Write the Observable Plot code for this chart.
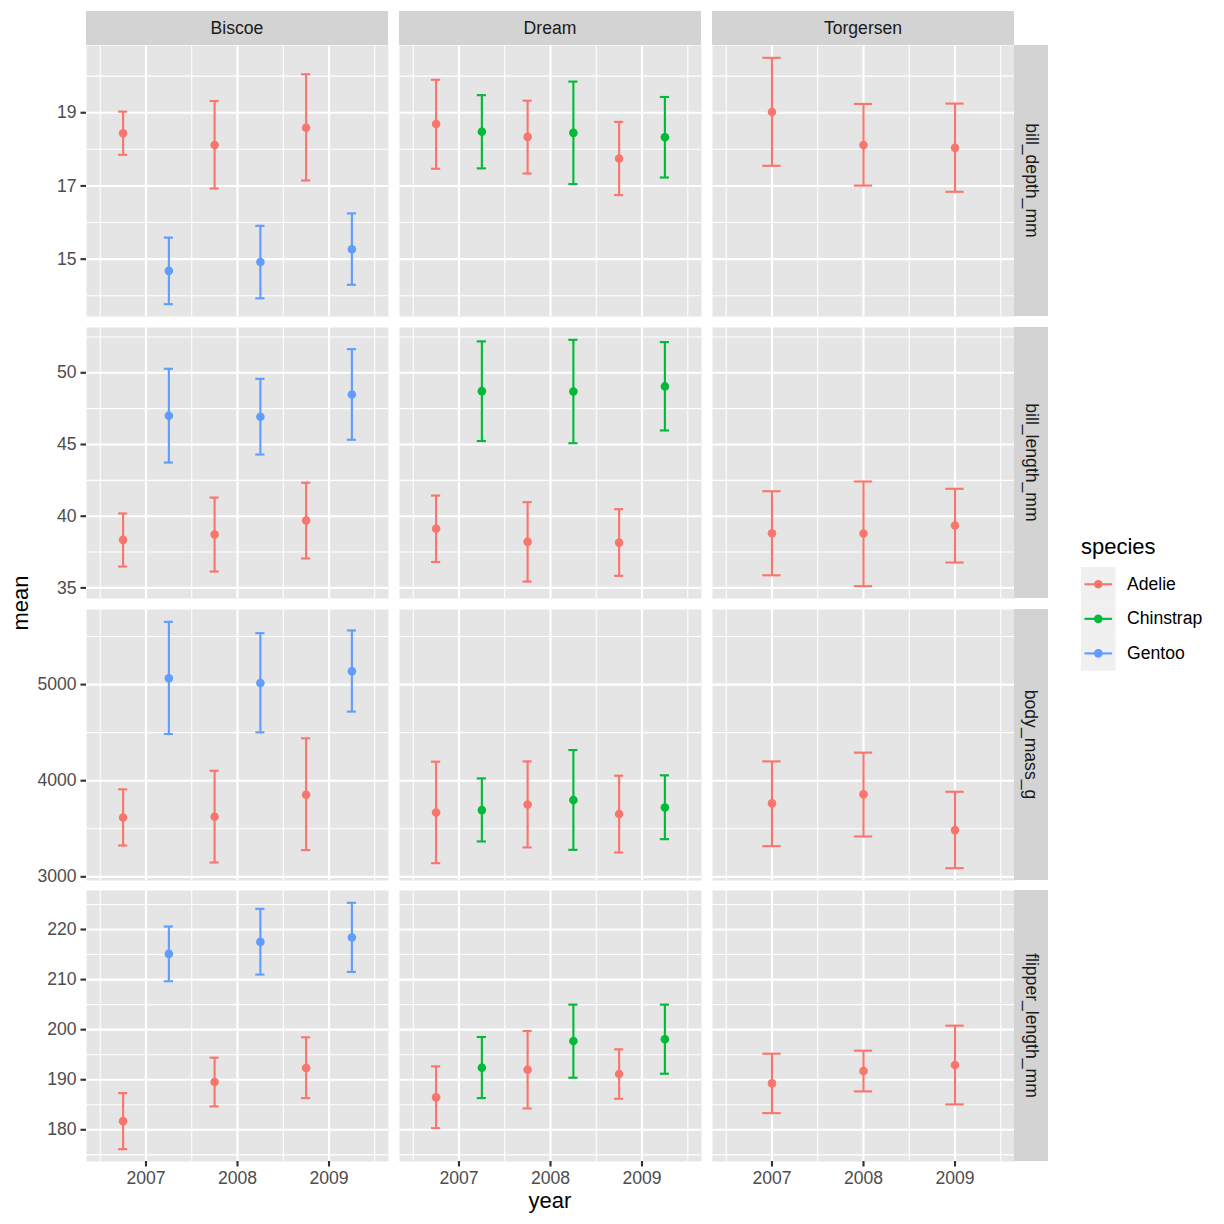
<!DOCTYPE html>
<html>
<head>
<meta charset="utf-8">
<script src="https://cdn.jsdelivr.net/npm/d3@7"></script>
<script src="https://cdn.jsdelivr.net/npm/@observablehq/plot@0.6"></script>
<style>
  body { margin: 0; background: #ffffff; }
  #chart { position: relative; width: 1224px; height: 1224px; font-family: "Liberation Sans", Arial, Helvetica, sans-serif; }
  .strip { position: absolute; background: #D3D3D3; color: #1A1A1A; font-size: 17.6px; display: flex; align-items: center; justify-content: center; }
  .vtext { transform: rotate(90deg); white-space: nowrap; }
  .title { position: absolute; color: #000000; font-size: 22px; white-space: nowrap; }
  .legtext { position: absolute; color: #000000; font-size: 17.6px; white-space: nowrap; }
</style>
</head>
<body>
<div id="chart"></div>
<script>
// ---------------- data ----------------
const islands = ["Biscoe", "Dream", "Torgersen"];
const species = ["Adelie", "Chinstrap", "Gentoo"];
const speciesColors = ["#F8766D", "#00BA38", "#619CFF"];
const years = [2007, 2008, 2009];
const variables = ["bill_depth_mm", "bill_length_mm", "body_mass_g", "flipper_length_mm"];

// island/species groups present in the data (one row per group, values by year)
const groupIsland  = ["Biscoe", "Biscoe", "Dream", "Dream", "Torgersen"];
const groupSpecies = ["Adelie", "Gentoo", "Adelie", "Chinstrap", "Adelie"];

const billDepthMean = [[18.44, 18.12, 18.59], [14.68, 14.92, 15.27], [18.69, 18.34, 17.75], [18.48, 18.45, 18.33], [19.02, 18.12, 18.04]];
const billDepthLow  = [[17.85, 16.93, 17.15], [13.77, 13.93, 14.30], [17.47, 17.34, 16.75], [17.48, 17.05, 17.23], [17.55, 17.01, 16.84]];
const billDepthHigh = [[19.03, 19.32, 20.05], [15.59, 15.91, 16.25], [19.90, 19.33, 18.75], [19.48, 19.85, 19.43], [20.50, 19.24, 19.25]];

const billLengthMean = [[38.35, 38.72, 39.70], [47.00, 46.93, 48.49], [39.12, 38.21, 38.16], [48.72, 48.70, 49.05], [38.81, 38.79, 39.35]];
const billLengthLow  = [[36.49, 36.14, 37.05], [43.74, 44.30, 45.33], [36.81, 35.44, 35.84], [45.24, 45.09, 45.98], [35.88, 35.12, 36.77]];
const billLengthHigh = [[40.19, 41.30, 42.33], [50.28, 49.58, 51.65], [41.44, 40.98, 40.49], [52.19, 52.30, 52.14], [41.74, 42.42, 41.91]];

const bodyMassMean = [[3618, 3625, 3854], [5066, 5017, 5139], [3670, 3753, 3653], [3694, 3799, 3722], [3764, 3858, 3486]];
const bodyMassLow  = [[3326, 3149, 3278], [4486, 4503, 4719], [3142, 3306, 3253], [3368, 3281, 3392], [3319, 3420, 3090]];
const bodyMassHigh = [[3910, 4104, 4441], [5653, 5535, 5563], [4198, 4201, 4052], [4024, 4319, 4056], [4201, 4292, 3885]];

const flipperMean = [[181.73, 189.53, 192.33], [215.13, 217.53, 218.40], [186.47, 192.00, 191.13], [192.40, 197.73, 198.07], [189.27, 191.73, 192.93]];
const flipperLow  = [[176.13, 184.67, 186.33], [209.67, 211.00, 211.53], [180.33, 184.27, 186.20], [186.33, 190.40, 191.20], [183.33, 187.67, 185.07]];
const flipperHigh = [[187.33, 194.40, 198.47], [220.60, 224.13, 225.33], [192.67, 199.73, 196.07], [198.53, 205.00, 205.00], [195.20, 195.80, 200.80]];

// tick labels
const depthTicks = [15, 17, 19];
const depthMinor = [14, 16, 18, 20];
const lengthTicks = [35, 40, 45, 50];
const lengthMinor = [37.5, 42.5, 47.5, 52.5];
const massTicks = [3000, 4000, 5000];
const massMinor = [3500, 4500, 5500];
const flipperTicks = [180, 190, 200, 210, 220];
const flipperMinor = [175, 185, 195, 205, 215, 225];
const yearTicks = [2007, 2008, 2009];
const yearMinor = [2006.5, 2007.5, 2008.5, 2009.5];

// ---------------- assembly ----------------
const series = {
  bill_depth_mm:     {mean: billDepthMean,  low: billDepthLow,  high: billDepthHigh,  ticks: depthTicks,   minor: depthMinor},
  bill_length_mm:    {mean: billLengthMean, low: billLengthLow, high: billLengthHigh, ticks: lengthTicks,  minor: lengthMinor},
  body_mass_g:       {mean: bodyMassMean,   low: bodyMassLow,   high: bodyMassHigh,   ticks: massTicks,    minor: massMinor},
  flipper_length_mm: {mean: flipperMean,    low: flipperLow,    high: flipperHigh,    ticks: flipperTicks, minor: flipperMinor}
};

const FONT = '"Liberation Sans", Arial, Helvetica, sans-serif';
const chart = document.getElementById("chart");

// layout
const panelLeft = 86, panelRight = 1014, panelW = 302, panelGap = 11;
const rowTops = [45, 327, 609, 890];
const rowH = 271;
const stripTop = 11, stripH = 34, stripW = 34;

// dodge within island (dodge width 1, errorbar width 0.2)
function buildRows(v) {
  const s = series[v];
  const rows = [];
  groupIsland.forEach((isl, g) => {
    const present = species.filter(sp => groupIsland.some((gi, k) => gi === isl && groupSpecies[k] === sp));
    const n = present.length;
    const i = present.indexOf(groupSpecies[g]);
    const off = (i - (n - 1) / 2) / n;
    const cap = 0.2 / n;
    years.forEach((yr, j) => {
      rows.push({
        island: isl, species: groupSpecies[g], year: yr,
        xd: yr + off, capL: yr + off - cap / 2, capR: yr + off + cap / 2,
        mean: s.mean[g][j], lo: s.low[g][j], hi: s.high[g][j]
      });
    });
  });
  return rows;
}

const xSpan = (d3.max(years) + 0.5) - (d3.min(years) - 0.5);
const xDomain = [d3.min(years) - 0.5 - 0.05 * xSpan, d3.max(years) + 0.5 + 0.05 * xSpan];

variables.forEach((v, r) => {
  const s = series[v];
  const rows = buildRows(v);
  const lo = d3.min(rows, d => d.lo), hi = d3.max(rows, d => d.hi);
  const yDomain = [lo - 0.05 * (hi - lo), hi + 0.05 * (hi - lo)];
  const isLast = r === variables.length - 1;
  const bottom = isLast ? 40 : 0;
  const axisStyle = {tickSize: 5.5, tickPadding: 4.4, fontSize: 17.6, fill: "#4D4D4D", stroke: "#333333", strokeWidth: 2.13, label: null, tickFormat: d => String(d)};
  const marks = [
    Plot.frame({fill: "#E5E5E5", stroke: "none"}),
    Plot.gridX(yearMinor, {stroke: "#ffffff", strokeOpacity: 1, strokeWidth: 1.07}),
    Plot.gridY(s.minor, {stroke: "#ffffff", strokeOpacity: 1, strokeWidth: 1.07}),
    Plot.gridX(yearTicks, {stroke: "#ffffff", strokeOpacity: 1, strokeWidth: 2.13}),
    Plot.gridY(s.ticks, {stroke: "#ffffff", strokeOpacity: 1, strokeWidth: 2.13}),
    Plot.ruleX(rows, {fx: "island", x: "xd", y1: "lo", y2: "hi", stroke: "species", strokeWidth: 2.13}),
    Plot.ruleY(rows, {fx: "island", y: "hi", x1: "capL", x2: "capR", stroke: "species", strokeWidth: 2.13}),
    Plot.ruleY(rows, {fx: "island", y: "lo", x1: "capL", x2: "capR", stroke: "species", strokeWidth: 2.13}),
    Plot.dot(rows, {fx: "island", x: "xd", y: "mean", fill: "species", r: 4.3}),
    Plot.axisY(s.ticks, axisStyle)
  ];
  if (isLast) marks.push(Plot.axisX(yearTicks, axisStyle));
  const svg = Plot.plot({
    width: panelRight, height: rowH + bottom,
    marginLeft: panelLeft, marginRight: 0, marginTop: 0, marginBottom: bottom,
    style: {fontFamily: FONT, background: "transparent", overflow: "visible"},
    fx: {domain: islands, paddingInner: panelGap / (panelW + panelGap), paddingOuter: 0, round: false, axis: null, label: null},
    x: {domain: xDomain, axis: null},
    y: {domain: yDomain, axis: null},
    color: {domain: species, range: speciesColors},
    marks
  });
  svg.style.position = "absolute";
  svg.style.left = "0px";
  svg.style.top = rowTops[r] + "px";
  chart.appendChild(svg);

  // right strip
  const rs = document.createElement("div");
  rs.className = "strip";
  rs.style.left = panelRight + "px";
  rs.style.top = rowTops[r] + "px";
  rs.style.width = stripW + "px";
  rs.style.height = rowH + "px";
  const t = document.createElement("div");
  t.className = "vtext";
  t.textContent = v;
  rs.appendChild(t);
  chart.appendChild(rs);
});

// top strips
islands.forEach((isl, i) => {
  const d = document.createElement("div");
  d.className = "strip";
  d.style.left = (panelLeft + i * (panelW + panelGap)) + "px";
  d.style.top = stripTop + "px";
  d.style.width = panelW + "px";
  d.style.height = stripH + "px";
  d.textContent = isl;
  chart.appendChild(d);
});

// axis titles
const xt = document.createElement("div");
xt.className = "title";
xt.textContent = "year";
chart.appendChild(xt);
xt.style.left = (550 - xt.offsetWidth / 2) + "px";
xt.style.top = (1201 - 13) + "px";

const yt = document.createElement("div");
yt.className = "title";
yt.textContent = "mean";
chart.appendChild(yt);
const ytw = yt.offsetWidth, yth = yt.offsetHeight;
yt.style.left = (20 - ytw / 2) + "px";
yt.style.top = (603 - yth / 2) + "px";
yt.style.transform = "rotate(-90deg)";

// legend
const lt = document.createElement("div");
lt.className = "title";
lt.textContent = "species";
lt.style.left = "1081px";
lt.style.top = (547 - 13) + "px";
chart.appendChild(lt);

const keySize = 34.56, keyTop = 567, keyLeft = 1081;
const legSvg = d3.create("svg")
  .attr("width", keySize).attr("height", keySize * species.length)
  .style("position", "absolute").style("left", keyLeft + "px").style("top", keyTop + "px");
species.forEach((sp, i) => {
  const g = legSvg.append("g").attr("transform", `translate(0,${i * keySize})`);
  g.append("rect").attr("width", keySize).attr("height", keySize).attr("fill", "#F0F0F0");
  g.append("line").attr("x1", 3.5).attr("x2", keySize - 3.5).attr("y1", keySize / 2).attr("y2", keySize / 2)
    .attr("stroke", speciesColors[i]).attr("stroke-width", 2.13);
  g.append("circle").attr("cx", keySize / 2).attr("cy", keySize / 2).attr("r", 4.3).attr("fill", speciesColors[i]);
  const lab = document.createElement("div");
  lab.className = "legtext";
  lab.textContent = sp;
  lab.style.left = "1127px";
  lab.style.top = (keyTop + i * keySize + keySize / 2 - 10.5) + "px";
  chart.appendChild(lab);
});
chart.appendChild(legSvg.node());
</script>
</body>
</html>
